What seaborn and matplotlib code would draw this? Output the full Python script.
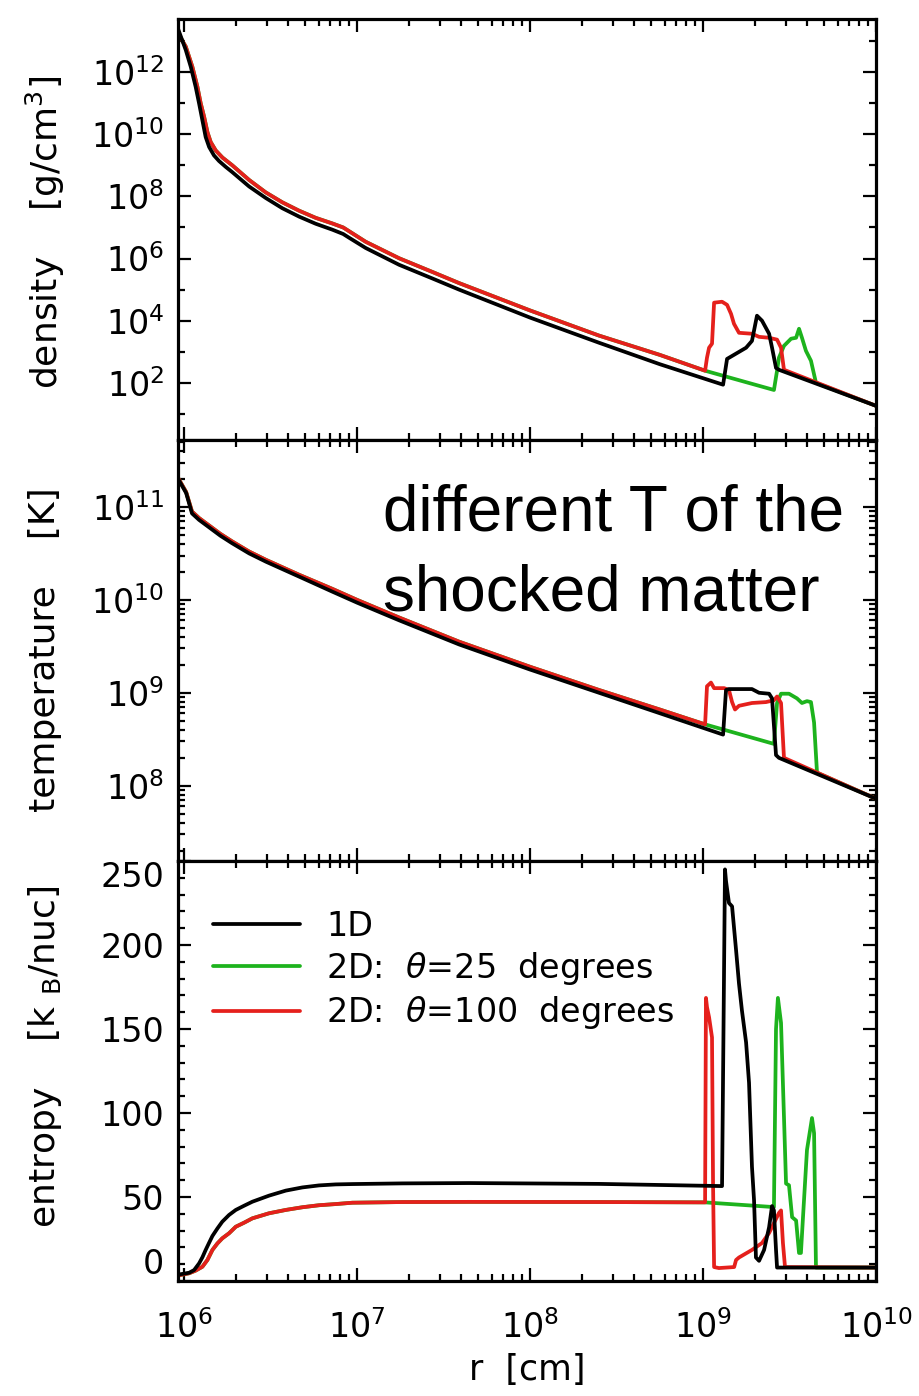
import numpy as np
import pandas as pd
import matplotlib
matplotlib.use("Agg")
import matplotlib.pyplot as plt
import matplotlib.ticker as mticker
import seaborn as sns

sns.set_style("ticks")
plt.rcParams["font.family"] = ["DejaVu Sans"]
plt.rcParams["mathtext.fontset"] = "dejavusans"
plt.rcParams["text.color"] = "black"
plt.rcParams["axes.labelcolor"] = "black"
plt.rcParams["xtick.color"] = "black"
plt.rcParams["ytick.color"] = "black"

# ---------------------------------------------------------------------------
# Profiles: radius given as log10(r / cm)
# ---------------------------------------------------------------------------

# density, log10(rho / g cm^-3)
dens_1d_logr = [5.961, 6.010, 6.039, 6.067, 6.087, 6.106, 6.125, 6.145, 6.173, 6.202,
                6.241, 6.279, 6.376, 6.472, 6.568, 6.665, 6.761, 6.857, 6.920, 6.954,
                7.050, 7.243, 7.435, 7.590, 8.0, 8.399, 8.75, 9.116,
                9.139, 9.249, 9.283, 9.312, 9.341, 9.382, 9.399, 9.422, 9.439, 10.0]
dens_1d = [13.46, 12.71, 12.17, 11.53, 10.99, 10.45, 9.91, 9.59, 9.32, 9.14,
           8.95, 8.78, 8.32, 7.95, 7.62, 7.35, 7.12, 6.93, 6.79, 6.67,
           6.34, 5.80, 5.36, 5.0, 4.10, 3.29, 2.60, 1.94,
           2.77, 3.13, 3.35, 4.16, 4.0, 3.58, 3.13, 2.48, 2.42, 1.26]

# common upstream profile of both 2D directions
dens_2d_in_logr = [5.961, 6.010, 6.048, 6.077, 6.096, 6.116, 6.135, 6.154, 6.183, 6.222,
                   6.279, 6.376, 6.472, 6.568, 6.665, 6.761, 6.857, 6.920, 6.954, 7.050,
                   7.243, 7.435, 7.590, 8.0, 8.399, 8.75, 9.012]
dens_2d_in = [13.29, 12.82, 12.17, 11.53, 11.0, 10.56, 10.07, 9.75, 9.48, 9.25,
              9.0, 8.53, 8.13, 7.81, 7.54, 7.31, 7.13, 7.00, 6.88, 6.54,
              6.01, 5.57, 5.21, 4.33, 3.52, 2.90, 2.39]

dens_25_logr = [9.410, 9.428, 9.439, 9.468, 9.509, 9.538, 9.555, 9.572, 9.595, 9.624,
                9.653, 10.0]
dens_25 = [1.77, 2.39, 2.81, 3.19, 3.42, 3.45, 3.74, 3.45, 3.03, 2.71, 2.0, 1.26]

dens_100_logr = [9.023, 9.035, 9.052, 9.064, 9.110, 9.139, 9.162, 9.179, 9.208, 9.283,
                 9.324, 9.382, 9.428, 9.451, 9.468, 10.0]
dens_100 = [2.81, 3.13, 3.26, 4.58, 4.61, 4.51, 4.22, 3.9, 3.61, 3.58,
            3.48, 3.45, 3.39, 3.13, 2.42, 1.26]

# temperature, log10(T / K)
temp_1d_logr = [5.96, 6.012, 6.046, 6.087, 6.145, 6.210, 6.277, 6.376, 6.474, 6.665,
                6.855, 7.0, 7.243, 7.59, 8.0, 8.399, 8.75, 9.116,
                9.133, 9.150, 9.283, 9.324, 9.382, 9.399, 9.422, 9.439, 10.0]
temp_1d = [11.32, 11.15, 10.93, 10.86, 10.78, 10.69, 10.61, 10.50, 10.41, 10.25,
           10.09, 9.97, 9.78, 9.52, 9.25, 9.0, 8.78, 8.55,
           9.03, 9.04, 9.04, 9.0, 8.99, 8.94, 8.33, 8.30, 7.86]

temp_2d_in_logr = [5.96, 6.012, 6.046, 6.087, 6.145, 6.210, 6.277, 6.376, 6.474, 6.665,
                   6.855, 7.0, 7.243, 7.59, 8.0, 8.399, 8.75, 9.012]
temp_2d_in = [11.33, 11.16, 10.95, 10.88, 10.80, 10.71, 10.63, 10.52, 10.43, 10.27,
              10.12, 10.0, 9.81, 9.55, 9.28, 9.03, 8.82, 8.66]

temp_25_logr = [9.410, 9.428, 9.451, 9.497, 9.543, 9.572, 9.601, 9.624, 9.642, 9.659, 10.0]
temp_25 = [8.45, 8.89, 8.99, 8.99, 8.94, 8.89, 8.91, 8.90, 8.68, 8.14, 7.86]

temp_100_logr = [9.023, 9.046, 9.064, 9.122, 9.150, 9.168, 9.185, 9.208, 9.283, 9.364,
                 9.410, 9.428, 9.451, 9.468, 10.0]
temp_100 = [9.07, 9.11, 9.05, 9.05, 9.03, 8.9, 8.82, 8.86, 8.89, 8.9,
            8.92, 8.96, 8.89, 8.30, 7.86]

# entropy, k_B per nucleon
entr_1d_logr = [5.952, 5.990, 6.029, 6.058, 6.087, 6.106, 6.125, 6.145, 6.164, 6.193,
                6.221, 6.260, 6.299, 6.347, 6.395, 6.491, 6.588, 6.684, 6.780, 6.877,
                6.973, 7.262, 7.647, 8.399, 9.110,
                9.127, 9.133, 9.150, 9.168, 9.191, 9.208, 9.225, 9.249, 9.266, 9.283,
                9.295, 9.306, 9.324, 9.353, 9.382, 9.399, 9.410, 9.422, 9.428, 10.0]
entr_1d = [3.6, 4.2, 4.9, 6.5, 10.5, 14.1, 18.5, 22.8, 26.8, 31.3,
           35.3, 39.3, 42.3, 44.8, 47.2, 50.8, 53.8, 55.7, 56.9, 57.5,
           57.7, 58.1, 58.3, 57.8, 56.5,
           245, 238, 225, 223, 197, 177, 161, 142, 118, 68,
           48, 14, 12, 18.5, 32, 44.6, 42, 18.5, 8, 8]

entr_2d_in_logr = [5.952, 6.029, 6.067, 6.106, 6.135, 6.164, 6.193, 6.221, 6.260, 6.299,
                   6.347, 6.395, 6.491, 6.588, 6.684, 6.780, 6.877, 6.973, 7.262, 7.647,
                   8.399, 9.012]
entr_2d_in = [3.0, 4.6, 6.2, 8.5, 12.5, 18.5, 22.4, 25.4, 28.4, 32.3,
              34.7, 37.3, 40.3, 42.3, 43.9, 45.1, 45.8, 46.6, 47.0, 47.1,
              47.0, 46.8]

entr_25_logr = [9.410, 9.422, 9.433, 9.451, 9.468, 9.480, 9.497, 9.515, 9.538, 9.555,
                9.566, 9.578, 9.601, 9.630, 9.642, 9.653, 10.0]
entr_25 = [44, 150, 168.5, 153.6, 97.6, 58, 57, 38, 36, 16.7,
           16.7, 38, 78, 97, 88, 8, 8]

entr_100_logr = [9.017, 9.023, 9.035, 9.052, 9.058, 9.064, 9.092, 9.180, 9.191, 9.208,
                 9.283, 9.341, 9.382, 9.439, 9.451, 9.462, 9.474, 10.0]
entr_100 = [168.5, 163, 157, 145, 58, 8.3, 7.7, 8.3, 12.5, 14,
            18.5, 22.6, 28.6, 40.5, 42, 22.6, 8.3, 8]

labels = ["1D", r"2D:  $\theta$=25  degrees", r"2D:  $\theta$=100  degrees"]
colors = ["#000000", "#1db31d", "#e5201c"]

# ---------------------------------------------------------------------------
fig = plt.figure(figsize=(9.19, 13.96), dpi=100)
L, W = 178 / 919, 698 / 919
ax1 = fig.add_axes([L, 956 / 1396, W, 421 / 1396])
ax2 = fig.add_axes([L, 535 / 1396, W, 421 / 1396], sharex=ax1)
ax3 = fig.add_axes([L, 115 / 1396, W, 420 / 1396], sharex=ax1)

for ax in (ax1, ax2, ax3):
    ax.set_xscale("log")
ax1.set_yscale("log")
ax2.set_yscale("log")


def draw(ax, logr, vals, color, log_y):
    r = 10.0 ** np.asarray(logr, dtype=float)
    v = np.asarray(vals, dtype=float)
    if log_y:
        v = 10.0 ** v
    df = pd.DataFrame({"r": r, "v": v})
    sns.lineplot(data=df, x="r", y="v", ax=ax, color=color, linewidth=2.7,
                 estimator=None, sort=False, legend=False)
    line = ax.lines[-1]
    line.set_linewidth(2.7)
    line.set_solid_joinstyle("round")
    return line


panels = [
    (ax1, True, (dens_1d_logr, dens_1d), (dens_2d_in_logr, dens_2d_in),
     (dens_25_logr, dens_25), (dens_100_logr, dens_100)),
    (ax2, True, (temp_1d_logr, temp_1d), (temp_2d_in_logr, temp_2d_in),
     (temp_25_logr, temp_25), (temp_100_logr, temp_100)),
    (ax3, False, (entr_1d_logr, entr_1d), (entr_2d_in_logr, entr_2d_in),
     (entr_25_logr, entr_25), (entr_100_logr, entr_100)),
]

handles = None
for ax, log_y, one_d, inner, th25, th100 in panels:
    g = draw(ax, inner[0] + th25[0], inner[1] + th25[1], colors[1], log_y)
    r = draw(ax, inner[0] + th100[0], inner[1] + th100[1], colors[2], log_y)
    k = draw(ax, one_d[0], one_d[1], colors[0], log_y)
    handles = [k, g, r]

# ---------------------------------------------------------------------------
pow_fmt = mticker.FuncFormatter(lambda v, p: r"$\mathregular{10^{%d}}$" % round(np.log10(v)))

ax1.set_xlim(10 ** 5.965, 1e10)
ax1.xaxis.set_major_locator(mticker.LogLocator(base=10, numticks=20))
ax1.xaxis.set_minor_locator(mticker.LogLocator(base=10, subs=np.arange(2, 10), numticks=100))
ax1.xaxis.set_major_formatter(pow_fmt)
ax1.xaxis.set_minor_formatter(mticker.NullFormatter())

ax1.set_ylim(10 ** 0.16, 10 ** 13.71)
ax1.yaxis.set_major_locator(mticker.FixedLocator([10.0 ** e for e in range(2, 13, 2)]))
ax1.yaxis.set_minor_locator(mticker.FixedLocator([10.0 ** e for e in range(1, 14, 2)]))
ax1.yaxis.set_major_formatter(pow_fmt)
ax1.yaxis.set_minor_formatter(mticker.NullFormatter())

ax2.set_ylim(10 ** 7.19, 10 ** 11.72)
ax2.yaxis.set_major_locator(mticker.LogLocator(base=10, numticks=20))
ax2.yaxis.set_minor_locator(mticker.LogLocator(base=10, subs=np.arange(2, 10), numticks=100))
ax2.yaxis.set_major_formatter(pow_fmt)
ax2.yaxis.set_minor_formatter(mticker.NullFormatter())

ax3.set_ylim(0, 250)
ax3.yaxis.set_major_locator(mticker.MultipleLocator(50))
ax3.yaxis.set_minor_locator(mticker.MultipleLocator(10))

for ax in (ax1, ax2, ax3):
    ax.tick_params(which="both", direction="in", top=True, right=True,
                   width=1.6, labelsize=24, colors="black")
    ax.tick_params(axis="y", which="both", pad=10)
    ax.tick_params(axis="x", which="both", pad=21)
    ax.tick_params(which="major", length=9.5)
    ax.tick_params(which="minor", length=5)
    for s in ax.spines.values():
        s.set_linewidth(2.3)
        s.set_color("black")
    ax.set_xlabel("")
ax1.tick_params(labelbottom=False)
ax2.tick_params(labelbottom=False)

# keep the end labels of the linear axis inside the frame
fig.canvas.draw()
for t in ax3.yaxis.get_major_ticks():
    loc = t.get_loc()
    if abs(loc) < 1e-9:
        t.label1.set_verticalalignment("bottom")
    elif abs(loc - 250) < 1e-9:
        t.label1.set_verticalalignment("top")

ylab = [(ax1, r"density    [g/cm$^\mathregular{3}$]", 0.494),
        (ax2, "temperature    [K]", 0.501),
        (ax3, r"entropy    [k $_\mathregular{B}$/nuc]", 0.533)]
for ax, txt, yc in ylab:
    ax.set_ylabel(txt, fontsize=26, va="center")
    ax.yaxis.set_label_coords(-0.19, yc)

ax3.set_xlabel("r  [cm]", fontsize=25, va="center")
ax3.xaxis.set_label_coords(0.5, -0.212)

# annotation in the temperature panel
ax2.text(0.294, 0.784, "different T of the", transform=ax2.transAxes,
         fontsize=46, family=["Liberation Sans"], va="baseline", ha="left",
         color="black")
ax2.text(0.294, 0.594, "shocked matter", transform=ax2.transAxes,
         fontsize=46, family=["Liberation Sans"], va="baseline", ha="left",
         color="black")

ax3.legend(handles, labels, loc="upper left", bbox_to_anchor=(0.05, 0.884),
           frameon=False, fontsize=24, handlelength=2.6, handletextpad=0.8,
           labelspacing=0.22, borderpad=0, borderaxespad=0)

fig.savefig("out.png", dpi=100)
